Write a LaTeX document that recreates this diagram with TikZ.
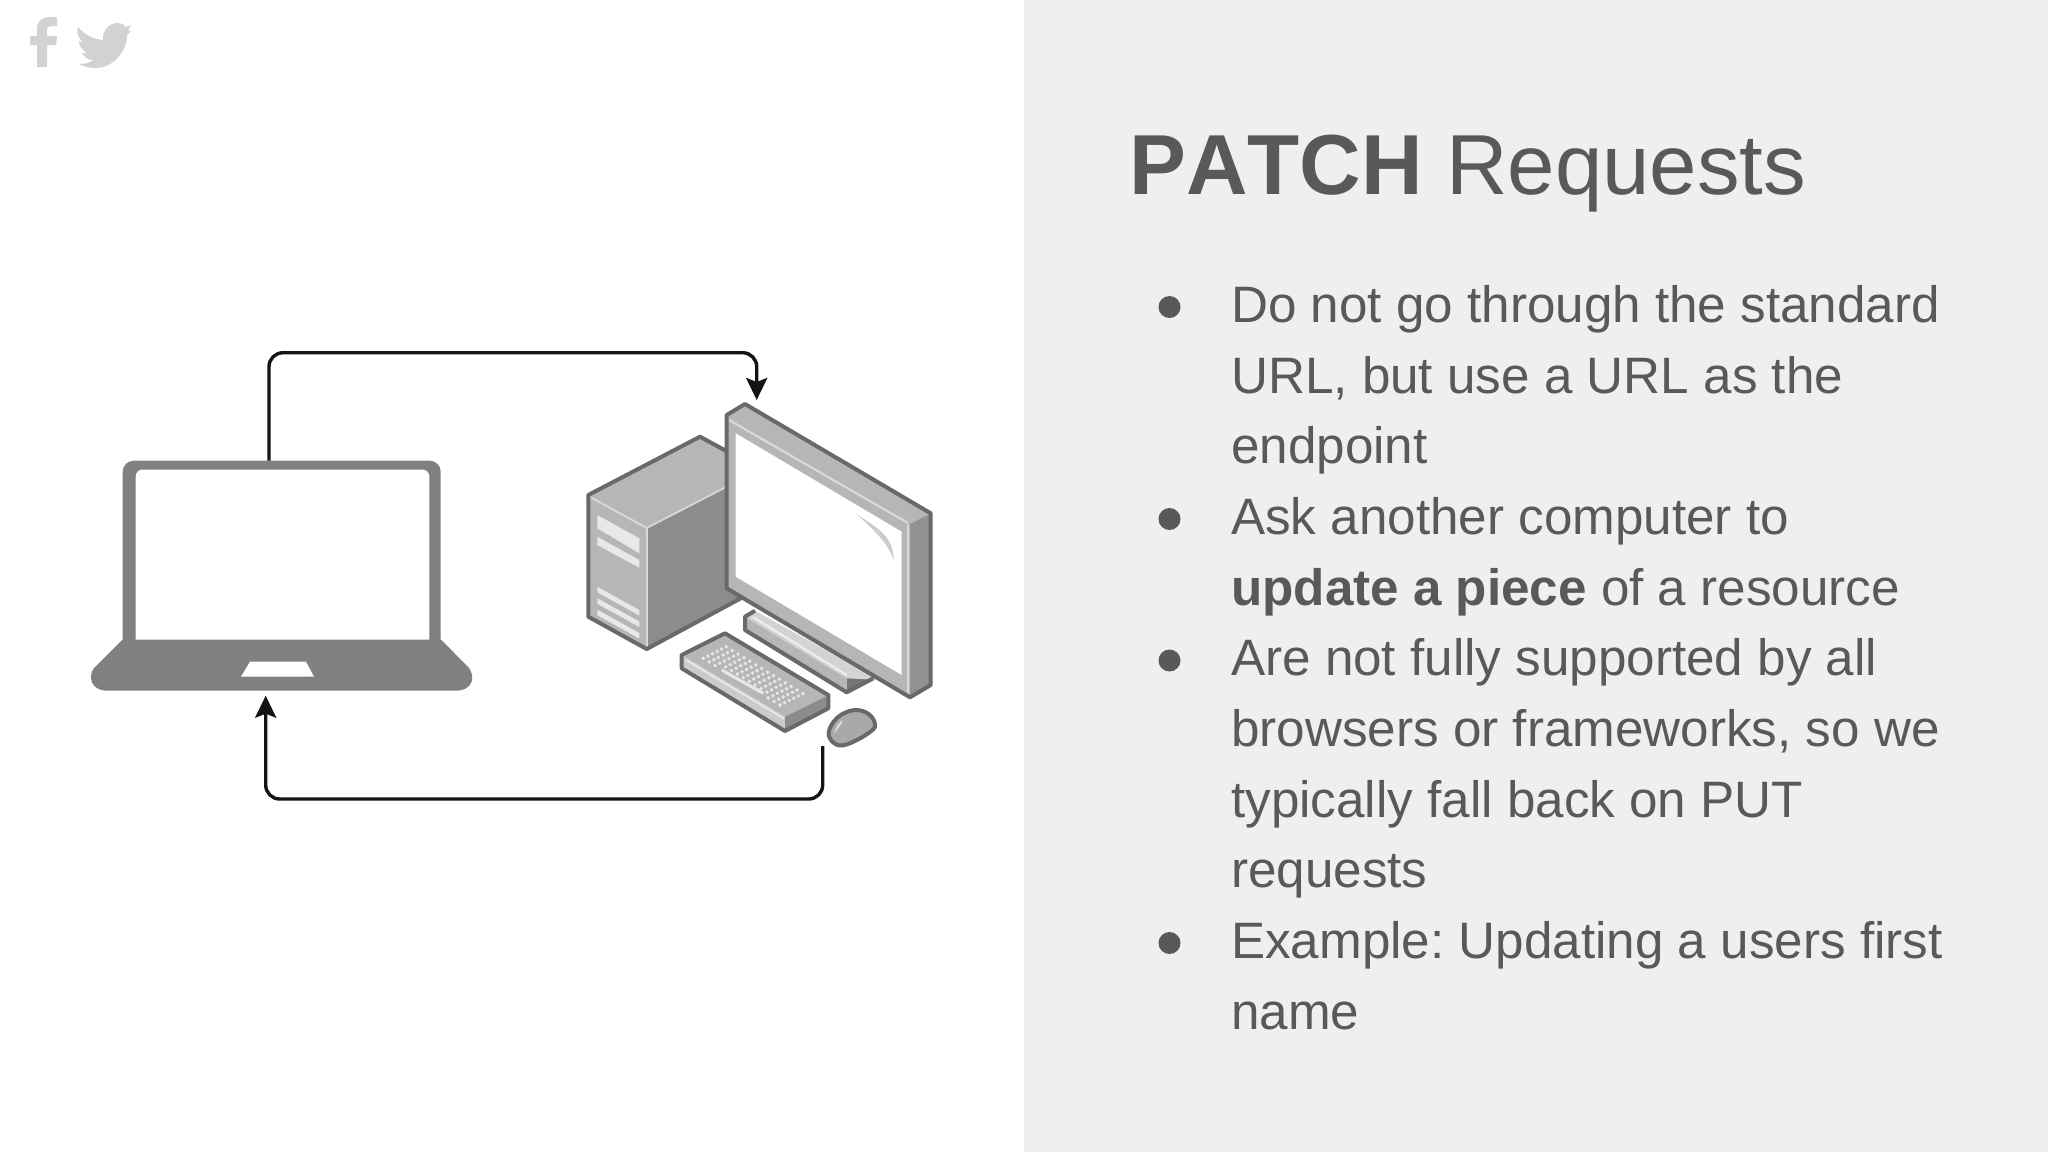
\documentclass[tikz,border=0pt]{standalone}
\usepackage{fontspec}
\setmainfont{Liberation Sans}
\newfontfamily\titlefont[Kerning=Off]{Liberation Sans}
\usetikzlibrary{arrows.meta}
\definecolor{panel}{HTML}{EFEFEF}
\definecolor{ink}{HTML}{595959}
\definecolor{lap}{HTML}{808080}
\definecolor{edge}{HTML}{68696A}
\definecolor{midg}{HTML}{8A8C8E}
\definecolor{lightg}{HTML}{B4B6B8}
\definecolor{paleg}{HTML}{D8D9DA}
\definecolor{slot}{HTML}{E8E8E8}
\definecolor{icon}{HTML}{D2D2D2}
\frenchspacing
\tikzset{
  bodytext/.style={anchor=base west,inner sep=0pt,text=ink,font=\fontsize{51.2}{60}\selectfont},
  titletext/.style={anchor=base west,inner sep=0pt,text=ink,font=\titlefont\fontsize{85.2}{100}\selectfont},
  bulletmark/.style={circle,fill=ink,inner sep=0pt,minimum size=22pt},
  link/.style={draw=black!92,line width=3.4pt,rounded corners=14pt,-{Stealth[length=22pt,width=21pt,inset=4pt]}},
  solid3d/.style={draw=edge,line width=4pt,line join=round},
}
\begin{document}
\begin{tikzpicture}[x=1pt,y=-1pt]
\useasboundingbox (0,0) rectangle (2048,1152);
\fill[white] (0,0) rectangle (2048,1152);
\fill[panel] (1024,0) rectangle (2048,1152);
% social icons
\fill[icon] (37,67) -- (37,45) -- (30,45) -- (30,36) -- (37,36) -- (37,29) .. controls (37,20) and (43,17) .. (50,17) -- (57,17) -- (57,26) -- (52,26) .. controls (48,26) and (47,28) .. (47,30) -- (47,36) -- (57,36) -- (56,45) -- (47,45) -- (47,67) -- cycle;
\fill[icon] (78,27) .. controls (85,35) and (93,39) .. (103,40) .. controls (102,30) and (110,23) .. (117,23) .. controls (122,23) and (124,25) .. (126,27) -- (131,25) -- (128,31) -- (131,31) -- (127,35) .. controls (127,52) and (113,68) .. (95,68) .. controls (90,68) and (84,67) .. (79,64) .. controls (85,64) and (90,63) .. (93,60) .. controls (88,60) and (84,57) .. (82,53) -- (87,53) .. controls (82,50) and (79,46) .. (79,41) -- (84,43) .. controls (78,38) and (76,33) .. (78,27) -- cycle;
% laptop
\fill[lap,rounded corners=11pt] (122.7,662) -- (122.7,460.7) -- (440.7,460.7) -- (440.7,662) -- cycle;
\fill[white,rounded corners=7pt] (135.7,650) -- (135.7,469.5) -- (429.3,469.5) -- (429.3,650) -- cycle;
\fill[lap] (122.7,639.5) -- (441,639.5) -- (469,668) .. controls (475,676) and (474,690.7) .. (455,690.7) -- (108,690.7) .. controls (90,690.7) and (88,676) .. (94,668) -- cycle;
\fill[white] (250,661.7) -- (306,661.7) -- (314,676.7) -- (241,676.7) -- cycle;
% tower
\fill[midg] (646.7,526.7) -- (735,480) -- (745,596) -- (646.7,649) -- cycle;
\fill[lightg] (588.3,495) -- (700,436.7) -- (730,453) -- (730,486) -- (646.7,526.7) -- cycle;
\fill[lightg] (588.3,495) -- (646.7,526.7) -- (646.7,649) -- (588.3,616.7) -- cycle;
\draw[paleg,line width=1.8pt] (590,497) -- (646.7,528) -- (730,485);
\draw[paleg,line width=1.8pt] (646.7,528) -- (646.7,647);
\draw[solid3d] (730,453) -- (700,436.7) -- (588.3,495) -- (588.3,616.7) -- (646.7,649) -- (745,596);
\fill[slot] (597.3,515) -- (639.3,538.3) -- (639.3,553.3) -- (597.3,528.3) -- cycle;
\fill[slot] (597.3,536.7) -- (639.3,560) -- (639.3,567.7) -- (597.3,545) -- cycle;
\foreach \d in {0,11.5,23}{
  \fill[slot] (597.3,{586.7+\d}) -- (639.3,{610+\d}) -- (639.3,{615.5+\d}) -- (597.3,{592.2+\d}) -- cycle;
}
% monitor stand
\fill[edge!70!midg] (846.7,678.3) -- (868,666) -- (876,678) -- (846.7,692.3) -- cycle;
\fill[lightg!60!white] (745,616.7) -- (755,610.7) -- (880,680) -- (846.7,678.3) -- cycle;
\fill[lightg] (745,616.7) -- (846.7,678.3) -- (846.7,692.3) -- (745,630) -- cycle;
\draw[white!80!lightg,line width=2pt] (753,617) -- (846.7,675);
\draw[solid3d] (755,610.7) -- (745,616.7) -- (745,630) -- (846.7,692.3) -- (873.3,678.3);
% monitor
\fill[midg!85!lightg] (910,522) -- (930.7,513.3) -- (930.7,685) -- (910,697.3) -- cycle;
\fill[lightg] (726.7,415) -- (745,404) -- (930.7,513.3) -- (910,524) -- (910,697.3) -- (726.7,588.3) -- cycle;
\draw[paleg,line width=2.2pt] (729,420) -- (908,523);
\draw[paleg,line width=2.2pt] (908,525) -- (908,694);
\fill[white] (735.7,433.3) -- (901.7,531.7) -- (901.7,675) -- (735.7,576.7) -- cycle;
\fill[lightg!70!white] (855,513) .. controls (880,530) and (892,535) .. (894,560) .. controls (888,545) and (880,535) .. (855,513) -- cycle;
\draw[solid3d] (726.7,415) -- (745,404) -- (930.7,513.3) -- (930.7,685) -- (910,697.3) -- (726.7,588.3) -- cycle;
% keyboard
\fill[lightg] (681.7,655) -- (725,633.3) -- (828.3,695) -- (785,716.7) -- cycle;
\fill[paleg!60!lightg] (681.7,655) -- (785,716.7) -- (785,731) -- (681.7,668.3) -- cycle;
\fill[midg] (785,716.7) -- (828.3,695) -- (828.3,708.3) -- (785,731) -- cycle;
\draw[white!70!lightg,line width=1.8pt] (686,660) -- (784,718.5);
\draw[solid3d] (681.7,655) -- (725,633.3) -- (828.3,695) -- (828.3,708.3) -- (785,731) -- (681.7,668.3) -- cycle;
\foreach \r/\cols in {0/{0,1,2,11,12,13},1/{0,...,13},2/{0,...,13},3/{0,...,13},4/{0,...,13},5/{0,...,13}}{
  \foreach \c in \cols {
    \pgfmathsetmacro{\px}{703.3+\c*5.9+\r*4.6}
    \pgfmathsetmacro{\py}{658.3+\c*3.6-\r*2.3}
    \fill[slot] (\px,\py) circle[radius=1.9pt];
  }
}
\draw[slot,line width=3pt] (721.7,670) -- (763.3,693.3);
% mouse
\fill[lightg!70!midg] (829,731) .. controls (833,716) and (848,710) .. (856,710) .. controls (868,710) and (878,719) .. (876,727) .. controls (874,732) and (850,745) .. (842,745.5) .. controls (834,746) and (827,738) .. (829,731) -- cycle;
\fill[paleg] (834,733) .. controls (836,726) and (839,722) .. (843,720) .. controls (841,725) and (838,730) .. (834,733) -- cycle;
\draw[solid3d] (829,731) .. controls (833,716) and (848,710) .. (856,710) .. controls (868,710) and (876,719) .. (875,727) .. controls (873,732) and (850,745) .. (842,745.5) .. controls (834,746) and (827,738) .. (829,731) -- cycle;
% connectors
\coordinate (laptopTop) at (269,460.7);
\coordinate (laptopBottom) at (265.7,695.7);
\coordinate (monitorTop) at (756.7,400);
\coordinate (mouseBelow) at (822.7,746);
\draw[link] (laptopTop) -- (269,352.7) -- (756.7,352.7) -- (monitorTop);
\draw[link] (mouseBelow) -- (822.7,799) -- (265.7,799) -- (laptopBottom);
% text
\node[titletext] (title) at (1129,194) {\textbf{PATCH} Requests};
\node[bodytext] (l1) at (1231,322) {Do not go through the standard};
\node[bodytext] (l2) at (1231,393) {URL, but use a URL as the};
\node[bodytext] (l3) at (1231,463.5) {endpoint};
\node[bodytext] (l4) at (1231,534) {Ask another computer to};
\node[bodytext] (l5) at (1231,605) {\textbf{update a piece} of a resource};
\node[bodytext] (l6) at (1231,675.5) {Are not fully supported by all};
\node[bodytext] (l7) at (1231,746) {browsers or frameworks, so we};
\node[bodytext] (l8) at (1231,817) {typically fall back on PUT};
\node[bodytext] (l9) at (1231,887.5) {requests};
\node[bodytext] (l10) at (1231,958) {Example: Updating a users first};
\node[bodytext] (l11) at (1231,1029) {name};
\node[bulletmark] (b1) at (1169.5,307) {};
\node[bulletmark] (b2) at (1169.5,519) {};
\node[bulletmark] (b3) at (1169.5,660.5) {};
\node[bulletmark] (b4) at (1169.5,943) {};
\end{tikzpicture}
\end{document}
